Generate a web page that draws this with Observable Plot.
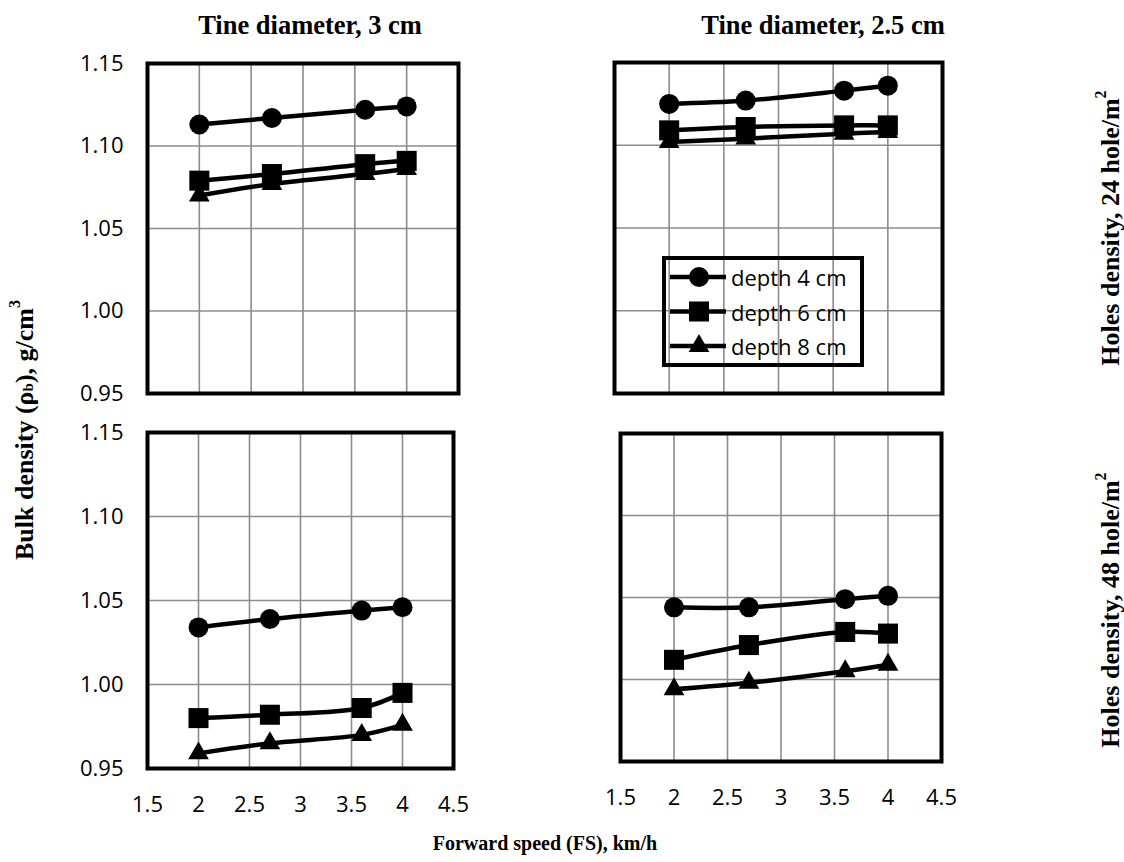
<!DOCTYPE html>
<html><head><meta charset="utf-8">
<script src="https://cdn.jsdelivr.net/npm/d3@7"></script>
<script src="https://cdn.jsdelivr.net/npm/@observablehq/plot@0.6"></script>
<style>
body{margin:0;background:#fff;}
#wrap{position:relative;width:1124px;height:862px;background:#fff;overflow:hidden;}
.panel{position:absolute;}
#overlay{position:absolute;left:0;top:0;pointer-events:none;}
</style></head><body><div id="wrap"></div>
<script>
// ---- data ----
const speeds = [2, 2.7, 3.6, 4];
const depthNames = ["depth 4 cm", "depth 6 cm", "depth 8 cm"];
const depthSymbols = ["circle", "square", "triangle"];
const xTicks = [1.5, 2, 2.5, 3, 3.5, 4, 4.5];
const yTicks = [0.95, 1.00, 1.05, 1.10, 1.15];
const colTitles = ["Tine diameter, 3 cm", "Tine diameter, 2.5 cm"];
const rowTitles = ["Holes density, 24 hole/m", "Holes density, 48 hole/m"];
// Tine diameter 3 cm, 24 hole/m2
const td3h24_d4 = [1.113, 1.117, 1.122, 1.124];
const td3h24_d6 = [1.079, 1.083, 1.089, 1.091];
const td3h24_d8 = [1.070, 1.077, 1.083, 1.086];
// Tine diameter 2.5 cm, 24 hole/m2
const td25h24_d4 = [1.125, 1.127, 1.133, 1.136];
const td25h24_d6 = [1.109, 1.111, 1.112, 1.112];
const td25h24_d8 = [1.102, 1.104, 1.107, 1.108];
// Tine diameter 3 cm, 48 hole/m2
const td3h48_d4 = [1.034, 1.039, 1.044, 1.046];
const td3h48_d6 = [0.980, 0.982, 0.986, 0.995];
const td3h48_d8 = [0.959, 0.965, 0.970, 0.976];
// Tine diameter 2.5 cm, 48 hole/m2
const td25h48_d4 = [1.044, 1.044, 1.049, 1.051];
const td25h48_d6 = [1.012, 1.021, 1.029, 1.028];
const td25h48_d8 = [0.994, 0.998, 1.005, 1.009];

// ---- layout ----
const panels = [
  {series: [td3h24_d4, td3h24_d6, td3h24_d8], box: [147, 458, 63, 393], showY: true, showX: false},
  {series: [td25h24_d4, td25h24_d6, td25h24_d8], box: [614, 942, 62, 393], showY: false, showX: false},
  {series: [td3h48_d4, td3h48_d6, td3h48_d8], box: [147, 453, 432, 768], showY: true, showX: true},
  {series: [td25h48_d4, td25h48_d6, td25h48_d8], box: [620, 941, 433, 761], showY: false, showX: true}
];
const symR = {circle: 10, square: 11.3, triangle: 7.7};
const wrap = document.getElementById("wrap");

panels.forEach(p => {
  const rows = [];
  p.series.forEach((vals, d) => vals.forEach((v, i) => rows.push({x: speeds[i], y: v, series: depthNames[d], sym: depthSymbols[d]})));
  const [x0, x1, y0, y1] = p.box;
  const mL = p.showY ? 110 : 12, mR = 12, mT = 12, mB = p.showX ? 60 : 12;
  const W = (x1 - x0) + mL + mR, H = (y1 - y0) + mT + mB;
  const chart = Plot.plot({
    width: W, height: H,
    marginLeft: mL, marginRight: mR, marginTop: mT, marginBottom: mB,
    style: {fontFamily: "'Open Sans', sans-serif", fontSize: "22px", color: "#000", background: "transparent", overflow: "visible"},
    x: {domain: [1.5, 4.5], axis: p.showX ? "bottom" : null, ticks: xTicks, tickSize: 0, tickPadding: 28, tickFormat: d => String(d), label: null},
    y: {domain: [0.95, 1.15], axis: p.showY ? "left" : null, ticks: yTicks, tickSize: 0, tickPadding: 24, tickFormat: d3.format(".2f"), label: null},
    marks: [
      Plot.gridX(xTicks.slice(1, -1), {stroke: "#8c8c8c", strokeOpacity: 1, strokeWidth: 1.6}),
      Plot.gridY(yTicks.slice(1, -1), {stroke: "#8c8c8c", strokeOpacity: 1, strokeWidth: 1.6}),
      Plot.frame({stroke: "#000", strokeWidth: 4}),
      Plot.line(rows, {x: "x", y: "y", z: "series", stroke: "#000", strokeWidth: 4.5, curve: "catmull-rom"}),
      ...depthSymbols.map(s => Plot.dot(rows.filter(r => r.sym === s), {x: "x", y: "y", symbol: s, r: symR[s], fill: "#000", stroke: "none"}))
    ]
  });
  const div = document.createElement("div");
  div.className = "panel";
  div.style.left = (x0 - mL) + "px";
  div.style.top = (y0 - mT) + "px";
  div.appendChild(chart);
  wrap.appendChild(div);
});

// ---- titles, axis labels and legend ----
const svg = d3.select(wrap).append("svg").attr("id", "overlay").attr("width", 1124).attr("height", 862);
const serif = "'Liberation Serif', 'Times New Roman', serif";
[[310, colTitles[0]], [823, colTitles[1]]].forEach(([x, t]) => {
  svg.append("text").attr("x", x).attr("y", 34).attr("text-anchor", "middle")
    .attr("font-family", serif).attr("font-weight", "bold").attr("font-size", 26.5).text(t);
});
[[228, rowTitles[0]], [610, rowTitles[1]]].forEach(([y, t]) => {
  const tx = svg.append("text").attr("transform", `translate(1110,${y}) rotate(-90)`).attr("text-anchor", "middle")
    .attr("dominant-baseline", "central").attr("font-family", serif).attr("font-weight", "bold").attr("font-size", 26);
  tx.append("tspan").text(t);
  tx.append("tspan").attr("font-size", 16).attr("dy", -10).text("2");
});
const yl = svg.append("text").attr("transform", "translate(24,430) rotate(-90)").attr("text-anchor", "middle")
  .attr("dominant-baseline", "central").attr("font-family", serif).attr("font-weight", "bold").attr("font-size", 26);
yl.append("tspan").text("Bulk density (ρ");
yl.append("tspan").attr("font-size", 15).attr("dy", 4).text("b");
yl.append("tspan").attr("dy", -4).text("), g/cm");
yl.append("tspan").attr("font-size", 16).attr("dy", -10).text("3");
svg.append("text").attr("x", 545).attr("y", 850).attr("text-anchor", "middle")
  .attr("font-family", serif).attr("font-weight", "bold").attr("font-size", 20).text("Forward speed (FS), km/h");

// legend
svg.append("rect").attr("x", 664).attr("y", 258).attr("width", 198).attr("height", 107)
  .attr("fill", "none").attr("stroke", "#000").attr("stroke-width", 4);
depthNames.forEach((name, i) => {
  const cy = 277 + i * 34.5;
  svg.append("line").attr("x1", 670).attr("x2", 726).attr("y1", cy).attr("y2", cy).attr("stroke", "#000").attr("stroke-width", 4.5);
  const s = depthSymbols[i];
  const sym = {circle: d3.symbolCircle, square: d3.symbolSquare, triangle: d3.symbolTriangle}[s];
  svg.append("path").attr("transform", `translate(699,${cy})`).attr("d", d3.symbol(sym, Math.PI * symR[s] * symR[s])()).attr("fill", "#000");
  svg.append("text").attr("x", 731).attr("y", cy).attr("dominant-baseline", "central")
    .attr("font-family", "'Open Sans', sans-serif").attr("font-size", 22).text(name);
});
</script></body></html>
